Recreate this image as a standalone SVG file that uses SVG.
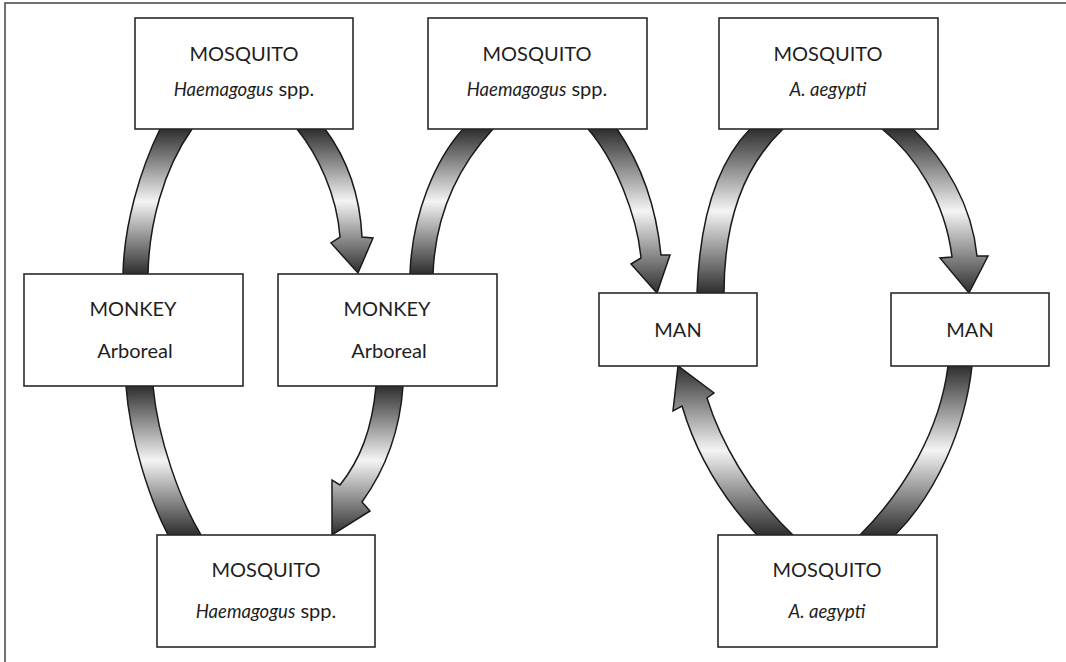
<svg xmlns="http://www.w3.org/2000/svg" width="1066" height="662" viewBox="0 0 1066 662">
<defs>
<linearGradient id="g" x1="0" y1="0" x2="0" y2="1">
<stop offset="0" stop-color="#2e2e2e"/>
<stop offset="0.5" stop-color="#f4f4f4"/>
<stop offset="1" stop-color="#2e2e2e"/>
</linearGradient>
<style>
.box{fill:#fff;stroke:#2a2a2a;stroke-width:1.6}
.band{fill:url(#g);stroke:#1a1a1a;stroke-width:1.5;stroke-linejoin:miter}
.t{font-family:Lato,"Open Sans",sans-serif;font-size:20px;fill:#1e1e1e;text-anchor:middle}
.i{font-style:italic;font-size:18.5px}
.frame{stroke:#444;stroke-width:1.5;fill:none}
</style>
</defs>
<rect width="1066" height="662" fill="#fff"/>
<path class="frame" d="M5,662 L5,3 L1066,3"/>
<g id="connectors">
<path class="band" d="M160,129 C140,170 124,225 123,274 L148,274 C149,225 163,170 192,129 Z"/>
<path class="band" d="M297,129 C318,155 337,195 340,237 L331,243 L358,273 L373,238 L362,237 C360,195 348,160 325,129 Z"/>
<path class="band" d="M126,386 C130,440 150,500 168,535 L201,535 C180,500 158,440 153,386 Z"/>
<path class="band" d="M376,386 C372,430 360,460 340,485 L332,480 L332,535 L370,511 L362,502 C385,470 400,430 403,386 Z"/>
<path class="band" d="M463,129 C435,160 412,215 410,274 L433,274 C435,220 455,170 493,129 Z"/>
<path class="band" d="M588,129 C615,160 637,215 641,258 L631,264 L657,293 L670,255 L661,255 C657,215 645,170 617,129 Z"/>
<path class="band" d="M750,129 C720,160 700,210 697,293 L724,293 C724,220 745,165 783,129 Z"/>
<path class="band" d="M882,129 C915,155 945,200 952,257 L940,258 L969,293 L988,256 L977,256 C972,205 945,160 913,129 Z"/>
<path class="band" d="M948,366 C940,430 905,490 860,535 L895,535 C935,495 965,430 972,366 Z"/>
<path class="band" d="M757,535 C720,495 695,450 682,406 L673,411 L678,366 L714,393 L707,398 C720,440 750,495 793,535 Z"/>
</g>
<g id="mosquito1">
<rect class="box" x="135" y="18" width="218" height="111"/>
<text class="t" x="244" y="61">MOSQUITO</text>
<text class="t" x="244" y="96"><tspan class="i">Haemagogus</tspan> spp.</text>
</g>
<g id="mosquito2">
<rect class="box" x="428" y="18" width="219" height="111"/>
<text class="t" x="537" y="61">MOSQUITO</text>
<text class="t" x="537" y="96"><tspan class="i">Haemagogus</tspan> spp.</text>
</g>
<g id="mosquito3">
<rect class="box" x="719" y="18" width="219" height="111"/>
<text class="t" x="828" y="61">MOSQUITO</text>
<text class="t i" x="828" y="96">A. aegypti</text>
</g>
<g id="monkey1">
<rect class="box" x="24" y="274" width="219" height="112"/>
<text class="t" x="133" y="316">MONKEY</text>
<text class="t" x="135" y="358">Arboreal</text>
</g>
<g id="monkey2">
<rect class="box" x="278" y="274" width="219" height="112"/>
<text class="t" x="387" y="316">MONKEY</text>
<text class="t" x="389" y="358">Arboreal</text>
</g>
<g id="man1">
<rect class="box" x="599" y="293" width="158" height="73"/>
<text class="t" x="678" y="337">MAN</text>
</g>
<g id="man2">
<rect class="box" x="891" y="293" width="158" height="73"/>
<text class="t" x="970" y="337">MAN</text>
</g>
<g id="mosquito4">
<rect class="box" x="157" y="535" width="218" height="112"/>
<text class="t" x="266" y="577">MOSQUITO</text>
<text class="t" x="266" y="618"><tspan class="i">Haemagogus</tspan> spp.</text>
</g>
<g id="mosquito5">
<rect class="box" x="718" y="535" width="219" height="112"/>
<text class="t" x="827" y="577">MOSQUITO</text>
<text class="t i" x="827" y="618">A. aegypti</text>
</g>
</svg>
